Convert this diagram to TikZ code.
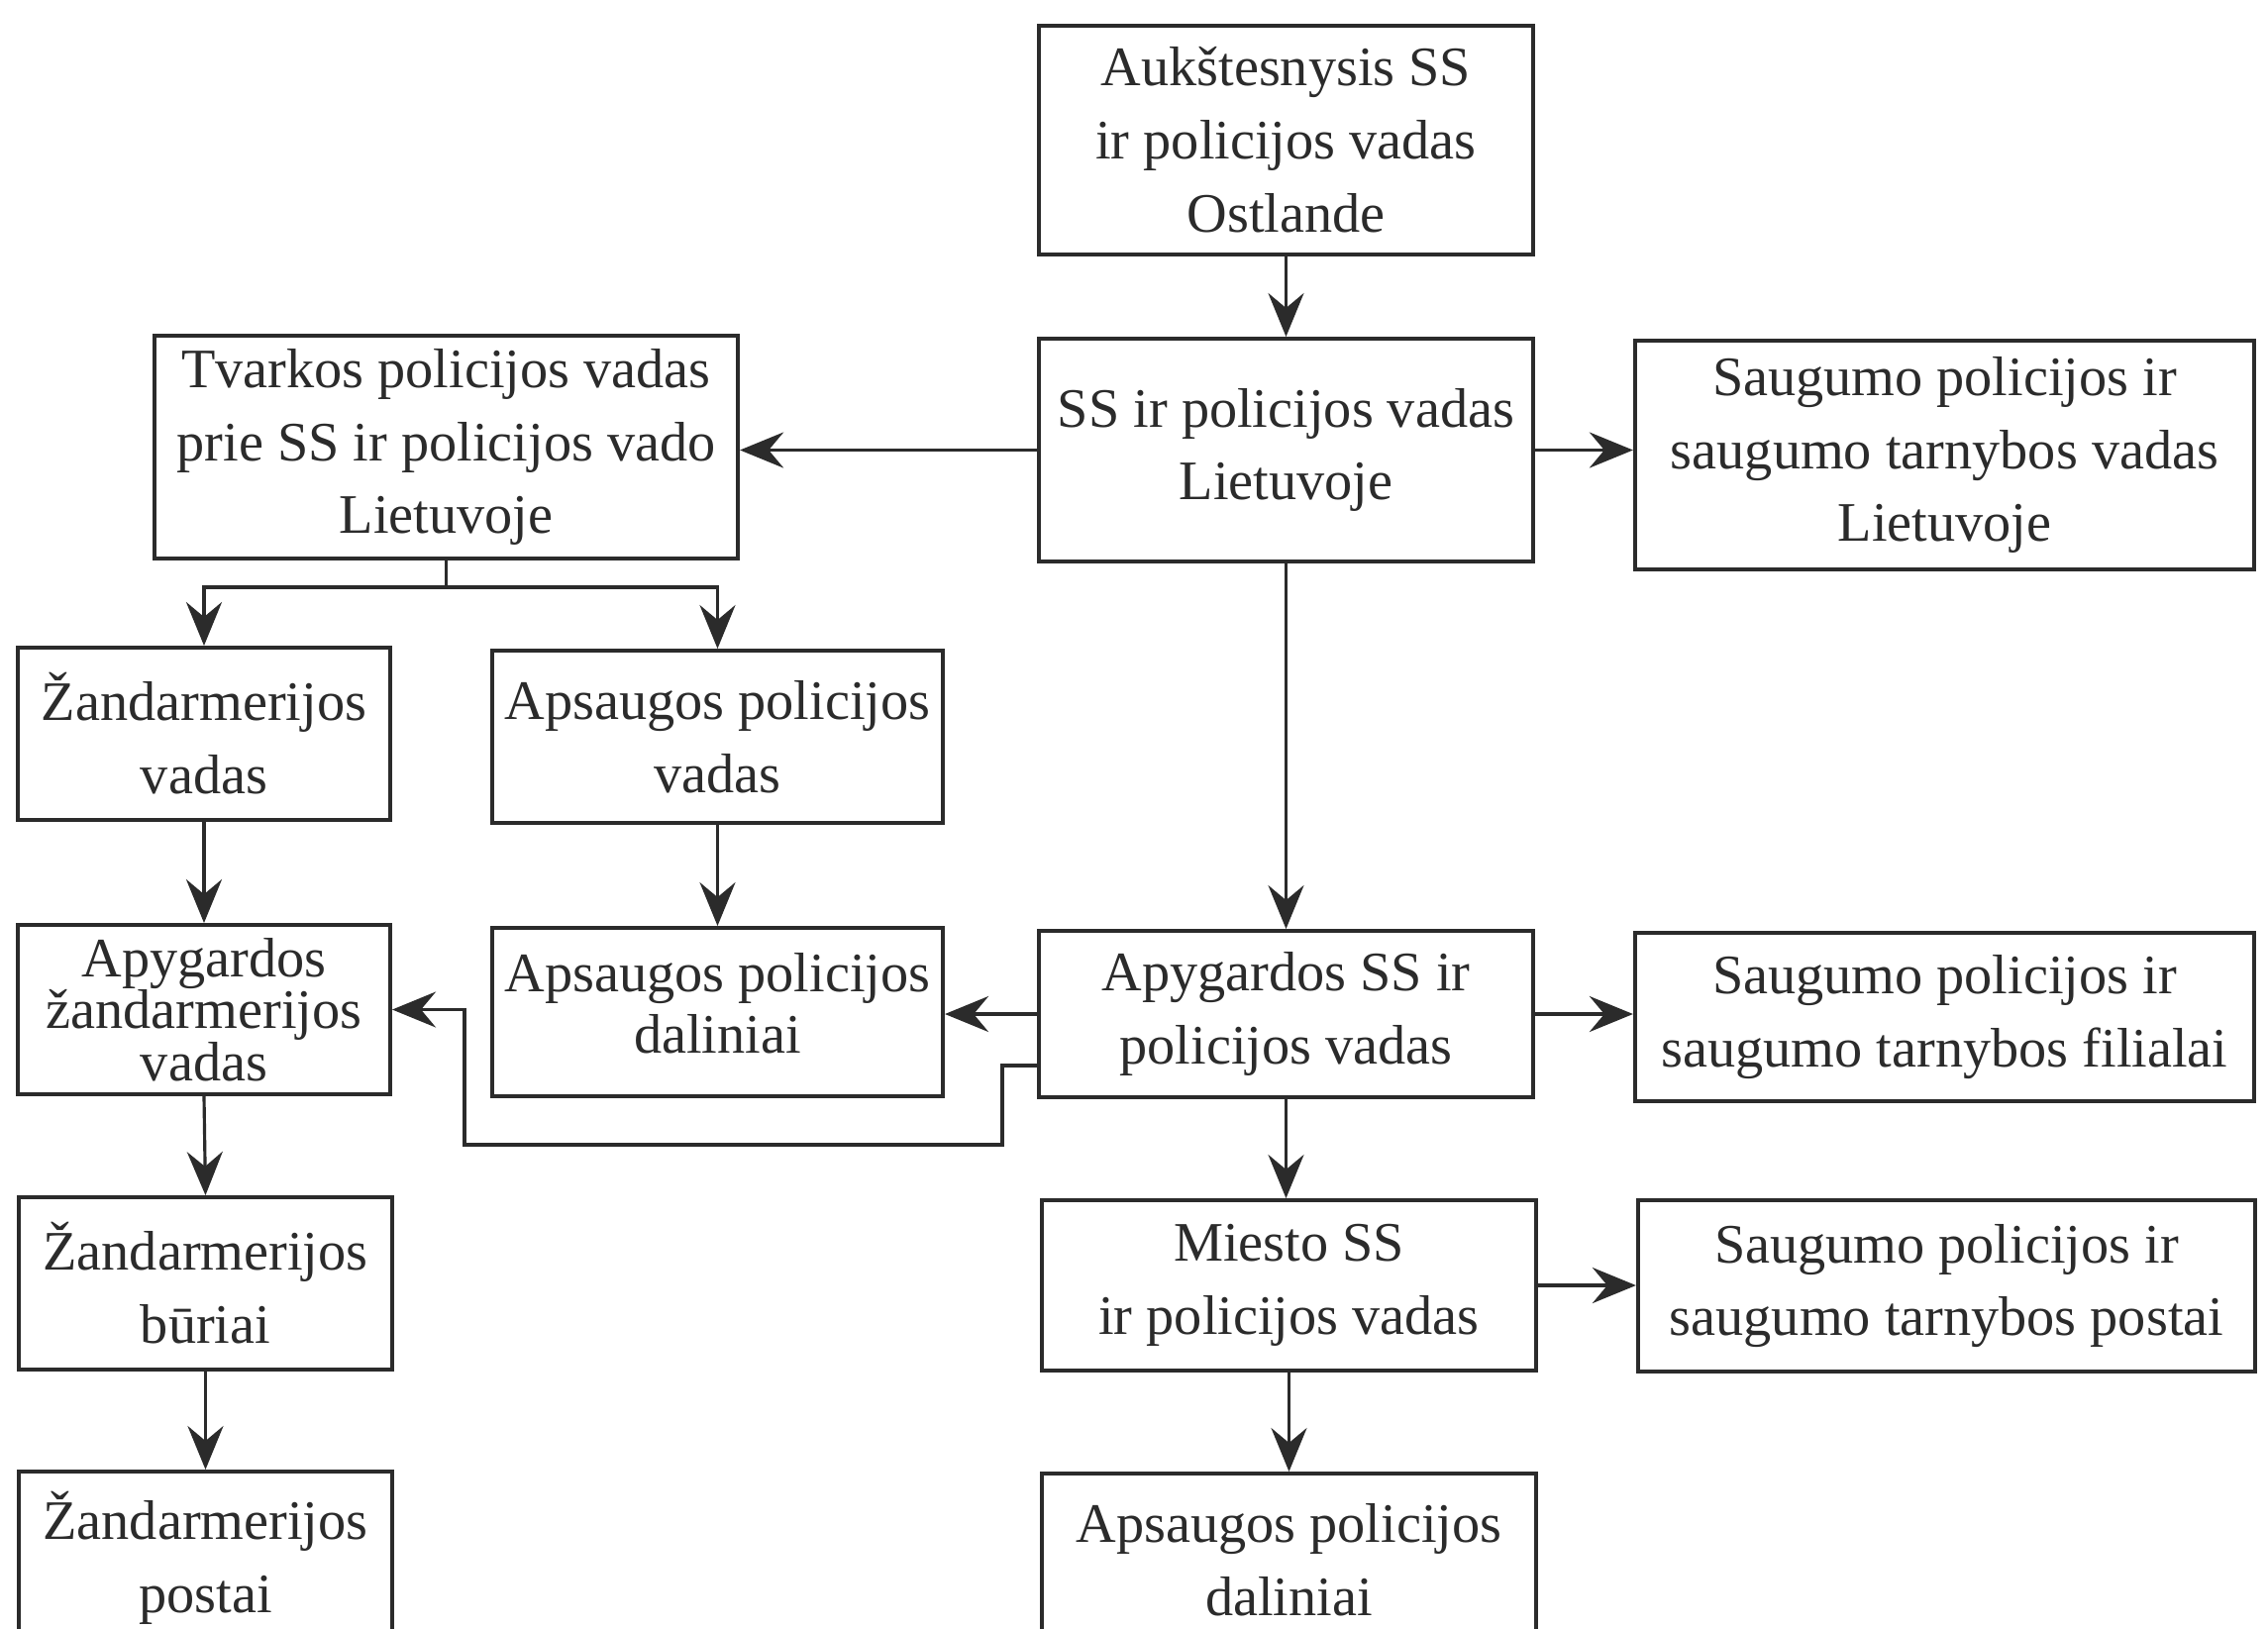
\documentclass[tikz,border=0pt]{standalone}
\usepackage{fontspec}
\setmainfont{Liberation Serif}
\usetikzlibrary{arrows.meta}
\definecolor{ink}{HTML}{2B2B2B}
\tikzset{
  box/.style={draw=ink, line width=1.1pt, rectangle, inner sep=0pt, align=center,
    font=\fontsize{16}{21}\selectfont, text=ink},
  conn/.style={draw=ink, line width=0.9pt},
  arr/.style={conn, -{Stealth[length=0.44cm, width=0.36cm, inset=0.15cm]}}
}
\begin{document}
\begin{tikzpicture}[x=0.01cm, y=-0.01cm]
\useasboundingbox (0,0) rectangle (2290,1644);
\clip (0,0) rectangle (2290,1644);
\fill[white] (0,0) rectangle (2290,1644);
% boxes
\node[box, minimum width=4.99cm, minimum height=2.31cm] (b1) at (1298.5,141.5) {Aukštesnysis SS\\ir policijos vadas\\Ostlande};
\node[box, minimum width=4.99cm, minimum height=2.25cm] (b2) at (1298.5,454.5) {SS ir policijos vadas\\Lietuvoje};
\node[box, minimum width=5.89cm, minimum height=2.25cm] (b3) at (450.5,451.5) {Tvarkos policijos vadas\\prie SS ir policijos vado\\Lietuvoje};
\node[box, minimum width=6.25cm, minimum height=2.31cm] (b4) at (1963.5,459.5) {Saugumo policijos ir\\saugumo tarnybos vadas\\Lietuvoje};
\node[box, minimum width=3.76cm, minimum height=1.74cm] (b5) at (206,741) {Žandarmerijos\\vadas};
\node[box, minimum width=4.55cm, minimum height=1.74cm] (b6) at (724.5,744) {Apsaugos policijos\\vadas};
\node[box, minimum width=3.76cm, minimum height=1.71cm, font=\fontsize{16}{15}\selectfont] (b7) at (206,1019.5) {Apygardos\\žandarmerijos\\vadas};
\node[box, minimum width=4.55cm, minimum height=1.70cm] (b8) at (724.5,1022) {};
\node[font=\fontsize{16}{17.5}\selectfont, text=ink, align=center, inner sep=0pt] (t8) at (724.5,1013) {Apsaugos policijos\\daliniai};
\node[box, minimum width=4.99cm, minimum height=1.68cm] (b9) at (1298.5,1024) {Apygardos SS ir\\policijos vadas};
\node[box, minimum width=6.25cm, minimum height=1.70cm] (b10) at (1963.5,1027) {Saugumo policijos ir\\saugumo tarnybos filialai};
\node[box, minimum width=3.77cm, minimum height=1.74cm] (b11) at (207.5,1296) {Žandarmerijos\\būriai};
\node[box, minimum width=4.99cm, minimum height=1.72cm] (b12) at (1301.5,1298) {Miesto SS\\ir policijos vadas};
\node[box, minimum width=6.23cm, minimum height=1.73cm] (b13) at (1965.5,1298.5) {Saugumo policijos ir\\saugumo tarnybos postai};
\node[box, minimum width=3.77cm, minimum height=1.74cm] (b14) at (207.5,1573) {Žandarmerijos\\postai};
\node[box, minimum width=4.99cm, minimum height=1.74cm] (b15) at (1301.5,1575) {Apsaugos policijos\\daliniai};
% connectors
\draw[arr] (b1.south) -- (b2.north);
\draw[arr] (b2.west) -- (b3.east |- b2.west);
\draw[arr] (b2.east) -- (b4.west |- b2.east);
\coordinate (j3) at (450.5,593);
\draw[conn] (b3.south) -- (j3);
\draw[arr] (j3) -| (b5.north);
\draw[arr] (j3) -| (b6.north);
\draw[arr] (b2.south) -- (b9.north);
\draw[arr] (b5.south) -- (b7.north);
\draw[arr] (b6.south) -- (b8.north);
\draw[arr] (b9.west) -- (b8.east |- b9.west);
\coordinate (e0) at (1049,1076);
\coordinate (e1) at (1012,1076);
\coordinate (e2) at (1012,1156);
\coordinate (e3) at (469,1156);
\draw[arr] (e0) -- (e1) -- (e2) -- (e3) |- (b7.east);
\draw[arr] (b9.east) -- (b10.west |- b9.east);
\draw[arr] (b9.south) -- (b9.south |- b12.north);
\draw[arr] (b12.east) -- (b13.west |- b12.east);
\draw[arr] (b7.south) -- (b11.north);
\draw[arr] (b11.south) -- (b14.north);
\draw[arr] (b12.south) -- (b15.north);
\end{tikzpicture}
\end{document}
